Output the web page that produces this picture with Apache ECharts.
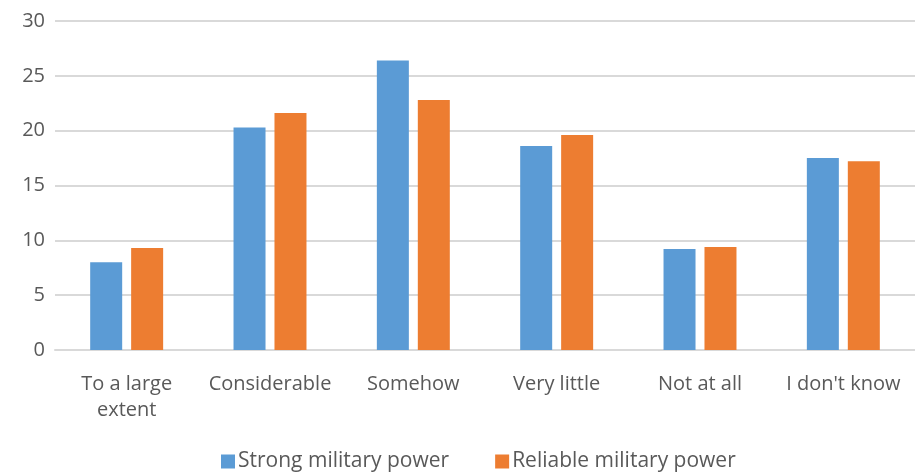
<!DOCTYPE html>
<html><head><meta charset="utf-8">
<script src="https://cdn.jsdelivr.net/npm/echarts@6/dist/echarts.min.js"></script>
<style>html,body{margin:0;padding:0;background:#fff}#c{width:915px;height:475px}</style>
</head><body><div id="c"></div>
<script>
const categories = ["To a large\nextent", "Considerable", "Somehow", "Very little", "Not at all", "I don't know"];
const strongPower = [8.0, 20.3, 26.4, 18.6, 9.2, 17.5];
const reliablePower = [9.3, 21.6, 22.8, 19.6, 9.4, 17.2];
const yTicks = [0, 5, 10, 15, 20, 25, 30];

const chart = echarts.init(document.getElementById('c'));
const font = "'Open Sans', 'Noto Sans', sans-serif";
chart.setOption({
  animation: false,
  textStyle: { fontFamily: font },
  grid: { left: 55, right: 0, top: 21, bottom: 125, containLabel: false },
  legend: {
    bottom: -2, left: 216, itemWidth: 14, itemHeight: 14, itemGap: 46,
    icon: 'rect',
    textStyle: { fontSize: 21, color: '#595959', fontFamily: font, padding: [0, 0, 0, -2] },
    data: ['Strong military power', 'Reliable military power']
  },
  xAxis: {
    type: 'category', data: categories,
    axisLine: { lineStyle: { color: '#d9d9d9', width: 2 } },
    axisTick: { show: false },
    axisLabel: { fontSize: 20, color: '#595959', margin: 21, lineHeight: 26, interval: 0 }
  },
  yAxis: {
    type: 'value', min: yTicks[0], max: yTicks[yTicks.length - 1], interval: 5,
    axisLine: { show: false }, axisTick: { show: false },
    axisLabel: { fontSize: 20, color: '#595959', margin: 10 },
    splitLine: { lineStyle: { color: '#d9d9d9', width: 2 } }
  },
  series: [
    { name: 'Strong military power', type: 'bar', data: strongPower, barWidth: 32, barGap: '28%',
      itemStyle: { color: '#5b9bd5' } },
    { name: 'Reliable military power', type: 'bar', data: reliablePower, barWidth: 32,
      itemStyle: { color: '#ed7d31' } }
  ]
});
</script></body></html>
